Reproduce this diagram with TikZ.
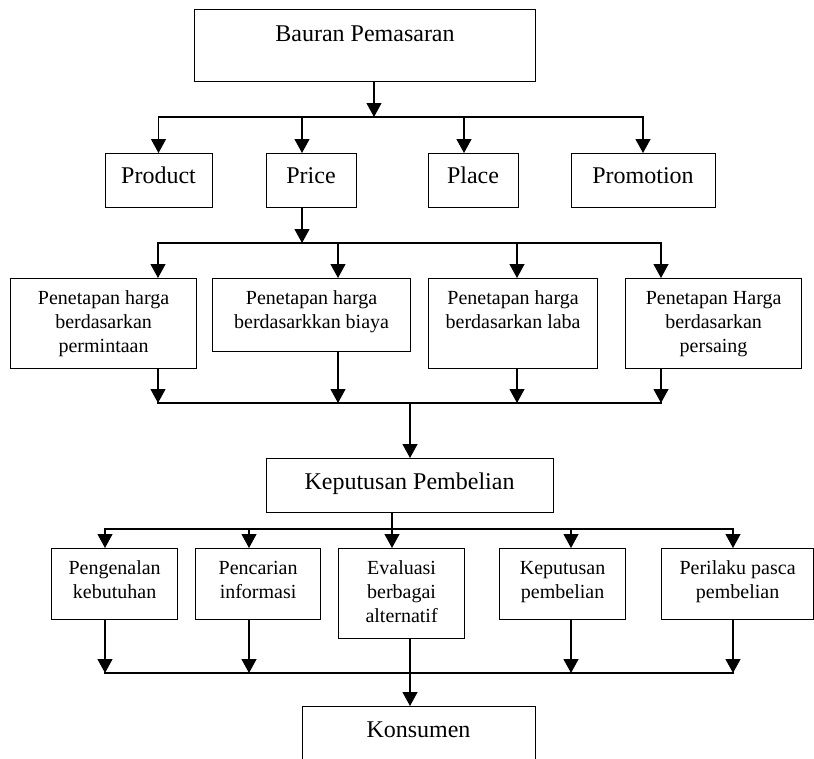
\documentclass[tikz,border=0pt]{standalone}
\usepackage{fontspec}
\setmainfont{Liberation Serif}
\usetikzlibrary{arrows.meta}
\begin{document}
\begin{tikzpicture}[x=1pt,y=-1pt,
  box/.style={draw, line width=1.2pt, inner sep=0pt, anchor=north west},
  link/.style={line width=1.2pt, line cap=rect},
  arr/.style={line width=1.2pt, -{Triangle[length=14pt,width=15pt]}},
  big/.style={font=\fontsize{24}{28}\selectfont, inner sep=0pt, anchor=base},
  small/.style={font=\fontsize{20}{24}\selectfont, inner sep=0pt, align=center, anchor=north, yshift=-9.2pt},
]
\clip (0,0) rectangle (814,758);
% top level
\node[box, minimum width=341pt, minimum height=72pt] (bauran) at (194,9) {};
\node[big] (tbauran) at (365,41) {Bauran Pemasaran};
\node[box, minimum width=107pt, minimum height=54pt] (product) at (105,153) {};
\node[box, minimum width=90pt, minimum height=54pt] (price) at (266,153) {};
\node[box, minimum width=90pt, minimum height=54pt] (place) at (428,153) {};
\node[box, minimum width=144pt, minimum height=54pt] (promotion) at (571,153) {};
\node[big] (tproduct) at (158.5,183) {Product};
\node[big] (tprice) at (311,183) {Price};
\node[big] (tplace) at (473,183) {Place};
\node[big] (tpromotion) at (643,183) {Promotion};
% pricing level
\node[box, minimum width=186pt, minimum height=90pt] (p1) at (10,278) {};
\node[box, minimum width=198pt, minimum height=73pt] (p2) at (212,278) {};
\node[box, minimum width=169pt, minimum height=90pt] (p3) at (428,278) {};
\node[box, minimum width=176pt, minimum height=90pt] (p4) at (625,278) {};
\node[small] (tp1) at (p1.north) {\strut Penetapan harga\\\strut berdasarkan\\\strut permintaan};
\node[small] (tp2) at (p2.north) {\strut Penetapan harga\\\strut berdasarkkan biaya};
\node[small] (tp3) at (p3.north) {\strut Penetapan harga\\\strut berdasarkan laba};
\node[small] (tp4) at (p4.north) {\strut Penetapan Harga\\\strut berdasarkan\\\strut persaing};
% decision
\node[box, minimum width=287pt, minimum height=54pt] (kep) at (266,458) {};
\node[big] (tkep) at (409.5,489) {Keputusan Pembelian};
\node[box, minimum width=126pt, minimum height=71pt] (c1) at (51,548) {};
\node[box, minimum width=125pt, minimum height=71pt] (c2) at (195,548) {};
\node[box, minimum width=126pt, minimum height=90pt] (c3) at (338,548) {};
\node[box, minimum width=126pt, minimum height=71pt] (c4) at (499,548) {};
\node[box, minimum width=152pt, minimum height=71pt] (c5) at (661,548) {};
\node[small] (tc1) at (c1.north) {\strut Pengenalan\\\strut kebutuhan};
\node[small] (tc2) at (c2.north) {\strut Pencarian\\\strut informasi};
\node[small] (tc3) at (c3.north) {\strut Evaluasi\\\strut berbagai\\\strut alternatif};
\node[small] (tc4) at (c4.north) {\strut Keputusan\\\strut pembelian};
\node[small] (tc5) at (c5.north) {\strut Perilaku pasca\\\strut pembelian};
\node[box, minimum width=233pt, minimum height=70pt] (kons) at (302,706) {};
\node[big] (tkons) at (418.5,737) {Konsumen};
% connectors level 1
\coordinate (j1) at (374,117);
\coordinate (d11) at (158.5,117);
\coordinate (d12) at (302,117);
\coordinate (d13) at (464,117);
\coordinate (d14) at (643,117);
\draw[arr] (j1 |- bauran.south) -- (j1);
\draw[link] (d11) -- (d14);
\draw[arr] (d11) -- (d11 |- product.north);
\draw[arr] (d12) -- (d12 |- price.north);
\draw[arr] (d13) -- (d13 |- place.north);
\draw[arr] (d14) -- (d14 |- promotion.north);
% level 2
\coordinate (j2) at (302,243);
\coordinate (d21) at (158,243);
\coordinate (d22) at (338,243);
\coordinate (d23) at (517,243);
\coordinate (d24) at (661,243);
\draw[arr] (j2 |- price.south) -- (j2);
\draw[link] (d21) -- (d24);
\draw[arr] (d21) -- (d21 |- p1.north);
\draw[arr] (d22) -- (d22 |- p2.north);
\draw[arr] (d23) -- (d23 |- p3.north);
\draw[arr] (d24) -- (d24 |- p4.north);
\coordinate (e21) at (158,403);
\coordinate (e22) at (338,403);
\coordinate (e23) at (517,403);
\coordinate (e24) at (661,403);
\coordinate (j3) at (410,403);
\draw[arr] (e21 |- p1.south) -- (e21);
\draw[arr] (e22 |- p2.south) -- (e22);
\draw[arr] (e23 |- p3.south) -- (e23);
\draw[arr] (e24 |- p4.south) -- (e24);
\draw[link] (e21) -- (e24);
\draw[arr] (j3) -- (j3 |- kep.north);
% level 3
\coordinate (j4) at (392,529);
\coordinate (d31) at (105,529);
\coordinate (d32) at (249,529);
\coordinate (d34) at (571,529);
\coordinate (d35) at (733,529);
\draw[link] (j4 |- kep.south) -- (j4);
\draw[link] (d31) -- (d35);
\draw[arr] (d31) -- (d31 |- c1.north);
\draw[arr] (d32) -- (d32 |- c2.north);
\draw[arr] (j4) -- (j4 |- c3.north);
\draw[arr] (d34) -- (d34 |- c4.north);
\draw[arr] (d35) -- (d35 |- c5.north);
\coordinate (e31) at (105,673);
\coordinate (e32) at (249,673);
\coordinate (e34) at (571,673);
\coordinate (e35) at (733,673);
\coordinate (j5) at (410,673);
\draw[arr] (e31 |- c1.south) -- (e31);
\draw[arr] (e32 |- c2.south) -- (e32);
\draw[arr] (e34 |- c4.south) -- (e34);
\draw[arr] (e35 |- c5.south) -- (e35);
\draw[link] (e31) -- (e35);
\draw[arr] (j5 |- c3.south) -- (j5 |- kons.north);
\end{tikzpicture}
\end{document}
